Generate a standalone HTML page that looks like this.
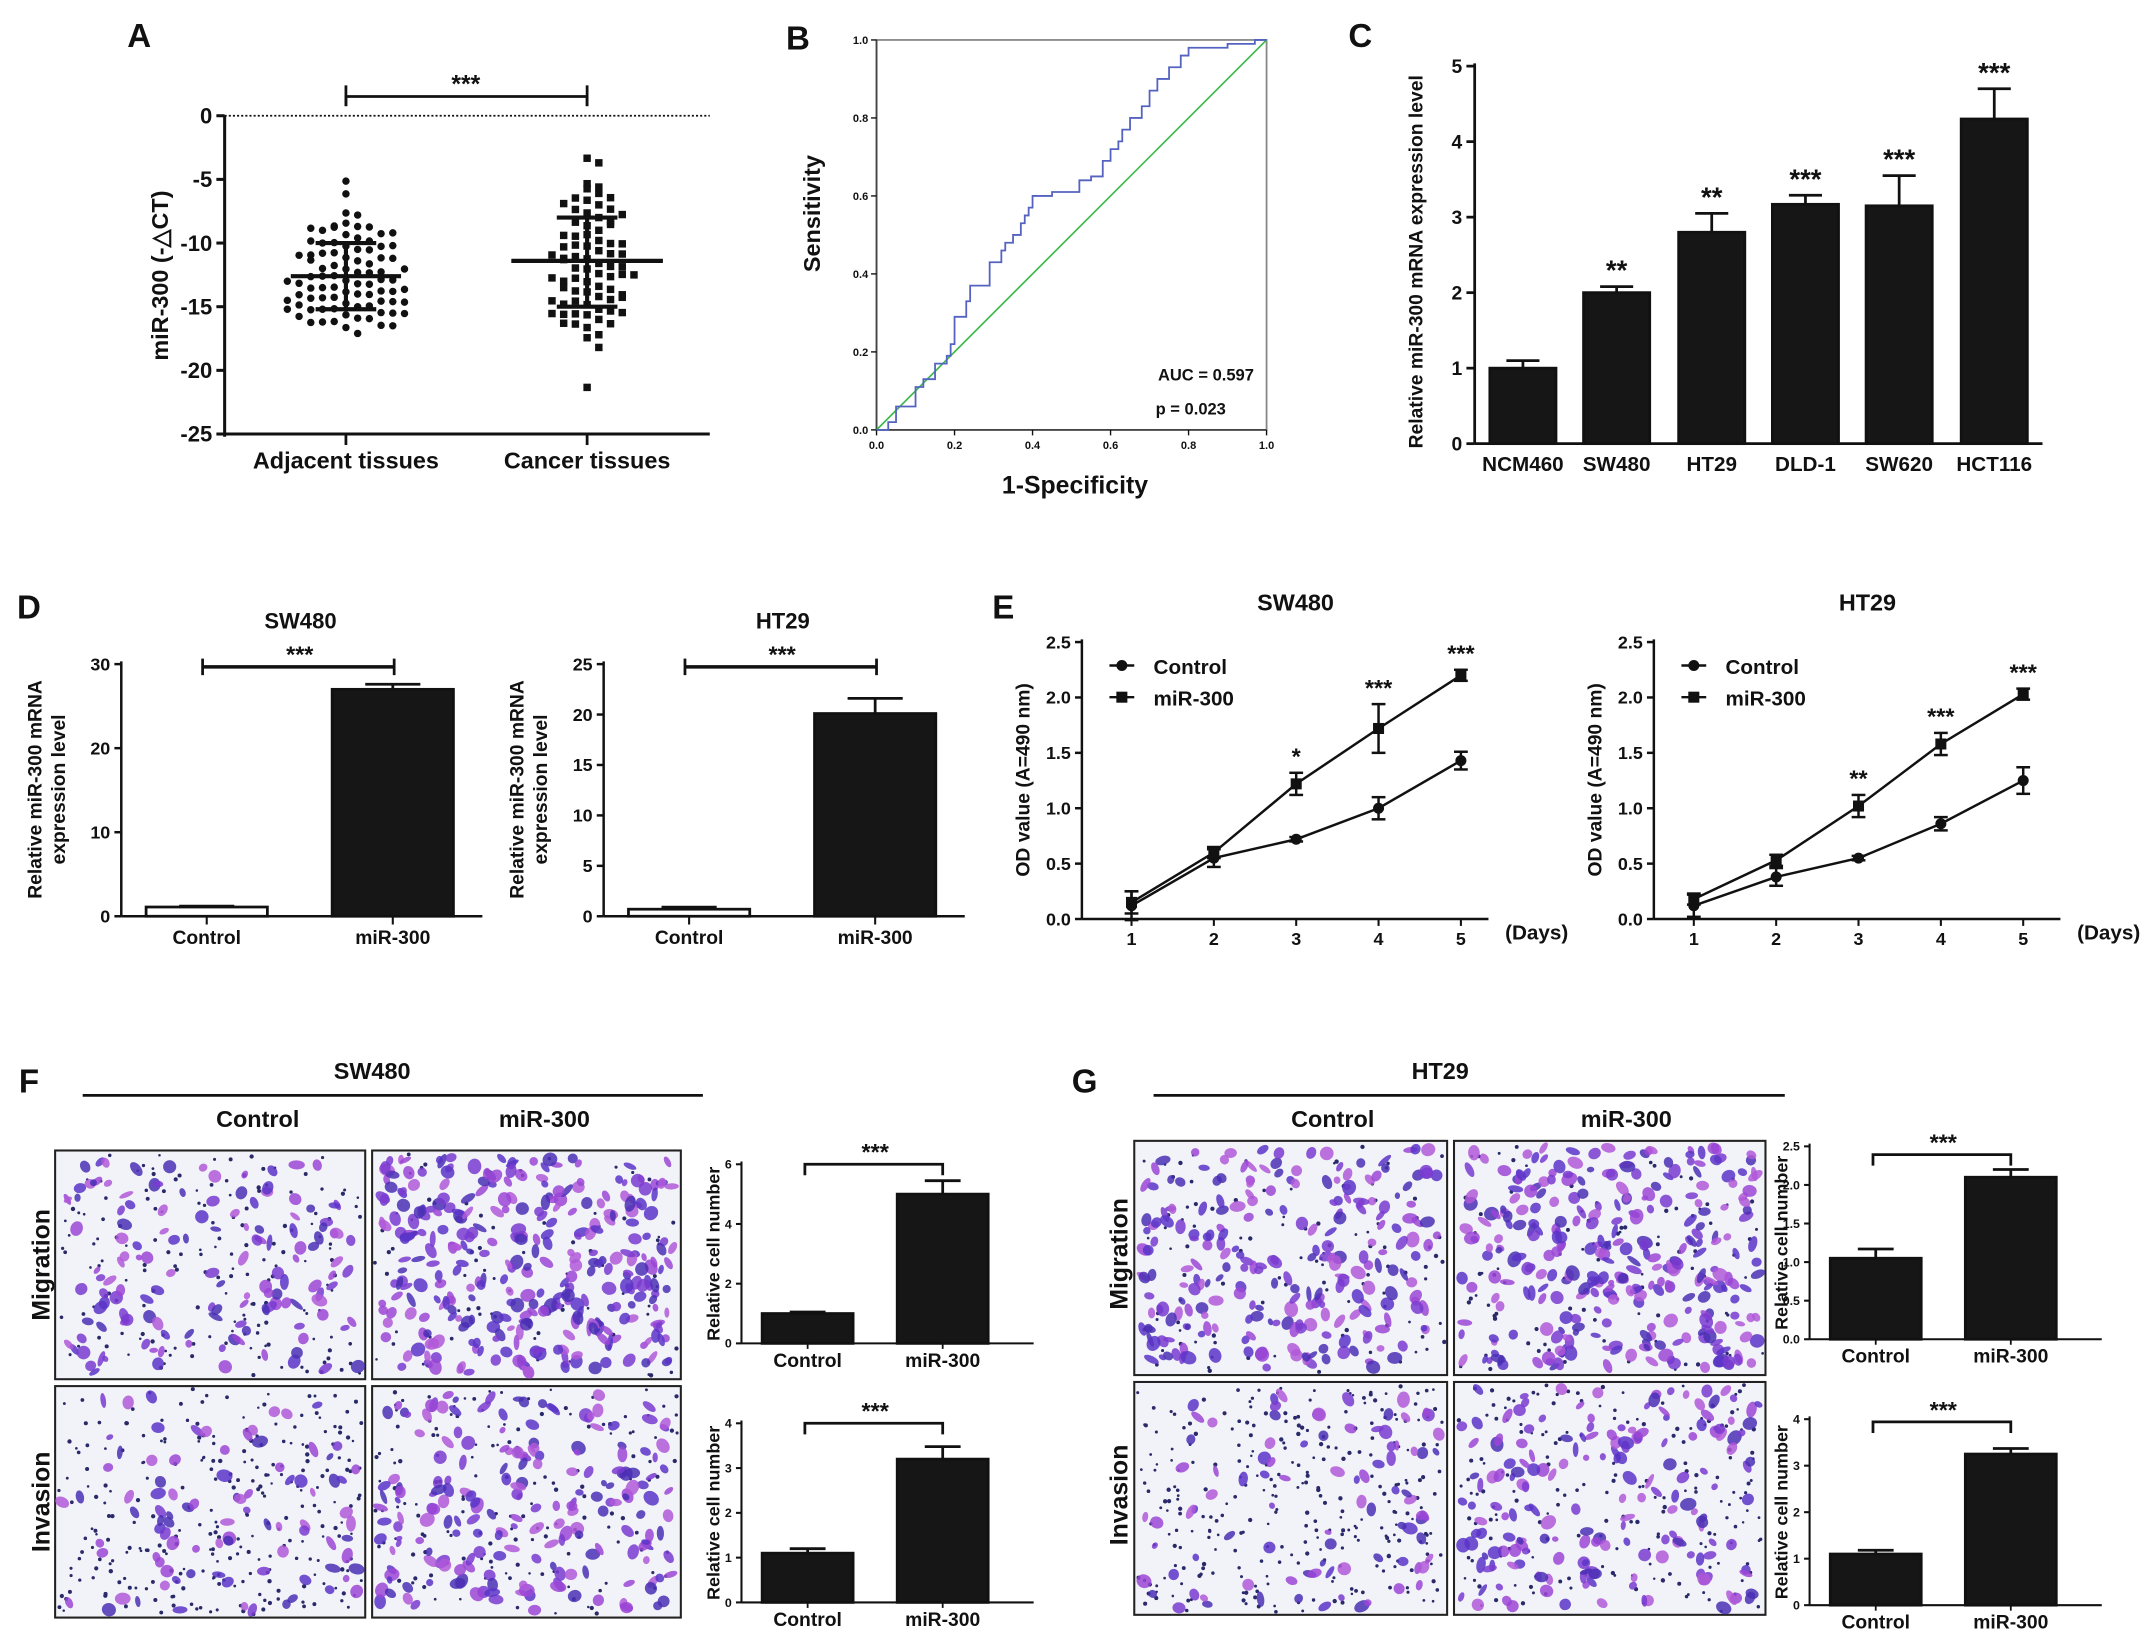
<!DOCTYPE html>
<html><head><meta charset="utf-8"><style>
html,body{margin:0;padding:0;background:#fff;}
svg{display:block;}
text{font-family:"Liberation Sans",Arial,sans-serif;font-weight:bold;fill:#111;}
</style></head><body>
<svg id="fig" xmlns="http://www.w3.org/2000/svg" width="2150" height="1641" viewBox="0 0 1560 1191" preserveAspectRatio="none"></svg>
<script>
// ---------- DATA ----------
const aCategories = ["Adjacent tissues", "Cancer tissues"];
const aAdjacent = [-5.3,-6.3,-7.8,-7.8,-8.5,-8.6,-8.7,-8.6,-8.9,-9.0,-9.1,-9.0,-9.2,-9.5,-9.6,-9.8,-10.0,-10.0,-10.1,-10.0,-10.2,-10.4,-10.5,-10.6,-10.7,-10.8,-11.0,-11.1,-11.2,-11.3,-11.4,-11.6,-11.8,-12.0,-12.1,-12.2,-12.3,-12.4,-12.5,-12.6,-12.7,-12.8,-12.9,-13.0,-13.1,-13.2,-13.3,-13.4,-13.5,-13.6,-13.7,-13.8,-13.9,-14.0,-14.0,-14.1,-14.2,-14.3,-14.4,-14.5,-14.6,-14.7,-14.8,-14.9,-15.0,-15.0,-15.1,-15.2,-15.3,-15.4,-15.5,-15.6,-15.7,-15.8,-15.9,-16.0,-16.1,-16.2,-16.3,-16.4,-16.5,-16.8,-17.1,-11.5,-12.2,-13.0,-13.8,-14.5,-15.2,-10.8];
const aCancer = [-3.5,-3.7,-5.5,-5.6,-5.9,-6.1,-6.3,-6.6,-6.8,-7.0,-7.2,-7.5,-7.8,-8.0,-8.2,-8.5,-8.8,-9.0,-9.3,-9.5,-9.8,-10.0,-10.2,-10.4,-10.6,-10.9,-11.0,-11.2,-11.4,-11.6,-11.8,-12.0,-12.2,-12.4,-12.6,-12.8,-13.0,-13.2,-13.4,-13.6,-13.8,-14.0,-14.2,-14.4,-14.6,-14.8,-15.0,-15.2,-15.4,-15.5,-15.6,-15.8,-16.0,-16.2,-16.5,-16.8,-17.2,-17.6,-18.2,-21.5,-6.9,-7.6,-8.7,-9.4,-10.3,-10.7,-11.3,-11.7,-12.3,-12.9,-13.5,-14.1,-14.7,-15.3,-15.7,-16.3,-9.9,-11.1,-12.5,-13.9];
const aMean = [-12.6, -11.4];
const aSdHigh = [-10.0, -8.0];
const aSdLow = [-15.2, -15.0];
const aTicks = [0,-5,-10,-15,-20,-25];

const rocX = [0,0.03,0.03,0.05,0.05,0.1,0.1,0.12,0.12,0.15,0.15,0.18,0.18,0.19,0.2,0.2,0.23,0.24,0.24,0.27,0.29,0.29,0.32,0.33,0.35,0.37,0.38,0.39,0.40,0.45,0.45,0.5,0.52,0.55,0.58,0.6,0.62,0.63,0.65,0.68,0.7,0.72,0.75,0.78,0.8,0.85,0.9,0.95,0.97,1];
const rocY = [0,0,0.02,0.05,0.06,0.07,0.11,0.12,0.13,0.14,0.17,0.18,0.19,0.22,0.28,0.29,0.33,0.35,0.37,0.37,0.41,0.43,0.46,0.48,0.5,0.53,0.55,0.57,0.6,0.6,0.61,0.61,0.64,0.65,0.69,0.72,0.74,0.77,0.8,0.83,0.87,0.9,0.93,0.96,0.98,0.98,0.99,0.99,1,1];
const rocTicks = [0,0.2,0.4,0.6,0.8,1.0];

const cCategories = ["NCM460","SW480","HT29","DLD-1","SW620","HCT116"];
const cValues = [1.0,2.0,2.8,3.17,3.15,4.3];
const cErrors = [0.1,0.08,0.25,0.12,0.4,0.4];
const cStars = ["","**","**","***","***","***"];
const cTicks = [0,1,2,3,4,5];

const dCategories = ["Control","miR-300"];
const dSW480Values = [1.1,27.0];
const dSW480Errors = [0.1,0.6];
const dSW480Ticks = [0,10,20,30];
const dHT29Values = [0.7,20.1];
const dHT29Errors = [0.2,1.5];
const dHT29Ticks = [0,5,10,15,20,25];

const eDays = [1,2,3,4,5];
const eTicks = [0,0.5,1.0,1.5,2.0,2.5];
const eSW480Control = [0.12,0.55,0.72,1.0,1.43];
const eSW480ControlErr = [0.13,0.08,0.02,0.1,0.08];
const eSW480Mir = [0.15,0.6,1.22,1.72,2.2];
const eSW480MirErr = [0.1,0.05,0.1,0.22,0.05];
const eSW480Stars = ["","","*","***","***"];
const eHT29Control = [0.12,0.38,0.55,0.86,1.25];
const eHT29ControlErr = [0.1,0.08,0.02,0.06,0.12];
const eHT29Mir = [0.18,0.53,1.02,1.58,2.03];
const eHT29MirErr = [0.05,0.05,0.1,0.1,0.05];
const eHT29Stars = ["","","**","***","***"];

const fMigValues = [1.0,5.0];
const fMigErrors = [0.05,0.45];
const fMigTicks = [0,2,4,6];
const fInvValues = [1.1,3.2];
const fInvErrors = [0.1,0.28];
const fInvTicks = [0,1,2,3,4];
const gMigValues = [1.05,2.1];
const gMigErrors = [0.12,0.1];
const gMigTicks = [0,0.5,1.0,1.5,2.0,2.5];
const gInvValues = [1.1,3.25];
const gInvErrors = [0.08,0.12];
const gInvTicks = [0,1,2,3,4];

// ---------- HELPERS ----------
const NS = "http://www.w3.org/2000/svg";
const root = document.getElementById("fig");
function el(tag, attrs, name, parent) {
  const e = document.createElementNS(NS, tag);
  for (const k in attrs) e.setAttribute(k, attrs[k]);
  
  
  (parent || root).appendChild(e);
  return e;
}
function grp(name) { return el("g", {}, name); }
function txt(x, y, s, size, name, parent, opts) {
  opts = opts || {};
  const a = {x: x, y: y, "font-size": size, "text-anchor": opts.anchor || "middle"};
  if (opts.rot) a.transform = "rotate(" + opts.rot + " " + x + " " + y + ")";
  if (opts.weight) a["font-weight"] = opts.weight;
  const t = el("text", a, name, parent);
  t.textContent = s;
  return t;
}
function line(x1, y1, x2, y2, w, name, parent, extra) {
  const a = {x1: x1, y1: y1, x2: x2, y2: y2, stroke: "#111", "stroke-width": w};
  if (extra) for (const k in extra) a[k] = extra[k];
  return el("line", a, name, parent);
}
function lin(d0, d1, r0, r1) { return v => r0 + (v - d0) * (r1 - r0) / (d1 - d0); }
function fmt(v, dec) { return dec ? v.toFixed(dec) : String(v); }

function yAxis(g, x, y0, y1, ticks, sc, fs, dec, tl, w) {
  line(x, y0, x, y1, w, "y-axis-line", g);
  ticks.forEach(t => {
    line(x - tl, sc(t), x, sc(t), w, "y-tick", g);
    txt(x - tl - 3, sc(t) + fs * 0.35, fmt(t, dec), fs, "y-tick-label", g, {anchor: "end"});
  });
}
function bracket(g, x1, x2, y, d) {
  el("path", {d: "M" + x1 + " " + (y + d) + " V" + y + " H" + x2 + " V" + (y + d), fill: "none", stroke: "#111", "stroke-width": 2}, "significance-bracket", g);
}
function barSet(g, centers, vals, errs, sc, bw, fills, capW) {
  vals.forEach((v, i) => {
    const yv = sc(v), y0 = sc(0);
    const ye = sc(v + errs[i]);
    line(centers[i], yv, centers[i], ye, 2, "error-bar", g);
    line(centers[i] - capW, ye, centers[i] + capW, ye, 2, "error-cap", g);
    el("rect", {x: centers[i] - bw / 2, y: yv, width: bw, height: y0 - yv, fill: fills[i], stroke: "#111", "stroke-width": 2}, "bar-" + i, g);
  });
}

// ---------- PANEL A ----------
(function () {
  const g = grp("panel-a");
  txt(101, 34, "A", 24, "panel-label-a", g);
  const sy = lin(0, -25, 84, 315);
  const xs = [251, 426];
  line(163, 84, 515, 84, 1.2, "zero-dotted-line", g, {"stroke-dasharray": "1.5 1.5"});
  yAxis(g, 163, 84, 317, aTicks, sy, 16, 0, 6, 2.2);
  line(163, 315, 515, 315, 2.2, "x-axis-line", g);
  xs.forEach((x, i) => {
    line(x, 315, x, 323, 2, "x-tick", g);
    txt(x, 340, aCategories[i], 17, "x-category-label", g);
  });
  txt(122, 200, "miR-300 (-△CT)", 17, "y-axis-title", g, {rot: -90});
  bracket(g, 251, 426, 70, 7);
  el("path", {d: "M251 62 V77 M426 62 V77", stroke: "#111", "stroke-width": 2}, "bracket-ends", g);
  txt(338, 67, "***", 18, "significance-stars", g);
  [aAdjacent, aCancer].forEach((arr, gi) => {
    const bins = {};
    arr.forEach(v => {
      const b = Math.round(v / 0.9);
      const k = bins[b] = (bins[b] || 0) + 1;
      const kk = k - 1;
      const off = (kk % 2 ? 1 : -1) * Math.ceil(kk / 2) * 8.5;
      const cx = xs[gi] + off, cy = sy(v) + ((kk % 3) - 1) * 1.5;
      if (gi === 0) el("circle", {cx: cx, cy: cy, r: 2.7, fill: "#111"}, "adjacent-point", g);
      else el("rect", {x: cx - 2.7, y: cy - 2.7, width: 5.4, height: 5.4, fill: "#111"}, "cancer-point", g);
    });
    line(xs[gi] - 40 - gi * 15, sy(aMean[gi]), xs[gi] + 40 + gi * 15, sy(aMean[gi]), 3, "mean-line", g);
    line(xs[gi], sy(aSdHigh[gi]), xs[gi], sy(aSdLow[gi]), 3, "sd-line", g);
    line(xs[gi] - 22, sy(aSdHigh[gi]), xs[gi] + 22, sy(aSdHigh[gi]), 3, "sd-cap", g);
    line(xs[gi] - 22, sy(aSdLow[gi]), xs[gi] + 22, sy(aSdLow[gi]), 3, "sd-cap", g);
  });
})();

// ---------- PANEL B ----------
(function () {
  const g = grp("panel-b");
  txt(579, 36, "B", 24, "panel-label-b", g);
  const sx = lin(0, 1, 636, 919), sy = lin(0, 1, 312, 29);
  el("rect", {x: 636, y: 29, width: 283, height: 283, fill: "none", stroke: "#888", "stroke-width": 1.3}, "plot-frame", g);
  line(636, 29, 636, 312, 1.3, "y-axis-line", g, {stroke: "#444"});
  line(636, 312, 919, 312, 1.3, "x-axis-line", g, {stroke: "#444"});
  rocTicks.forEach(t => {
    line(632, sy(t), 636, sy(t), 1, "y-tick", g);
    txt(630, sy(t) + 3, t.toFixed(1), 8, "y-tick-label", g, {anchor: "end", weight: "normal"});
    line(sx(t), 312, sx(t), 316, 1, "x-tick", g);
    txt(sx(t), 326, t.toFixed(1), 8, "x-tick-label", g, {weight: "normal"});
  });
  line(sx(0), sy(0), sx(1), sy(1), 1.2, "reference-diagonal", g, {stroke: "#3cb84a"});
  let d = "M" + sx(rocX[0]) + " " + sy(rocY[0]);
  for (let i = 1; i < rocX.length; i++) d += " H" + sx(rocX[i]) + " V" + sy(rocY[i]);
  el("path", {d: d, fill: "none", stroke: "#5563c0", "stroke-width": 1.3}, "roc-curve", g);
  txt(595, 155, "Sensitivity", 17, "y-axis-title", g, {rot: -90});
  txt(780, 358, "1-Specificity", 18, "x-axis-title", g);
  txt(875, 276, "AUC = 0.597", 12, "auc-label", g);
  txt(864, 301, "p = 0.023", 12, "p-value-label", g);
})();

// ---------- PANEL C ----------
(function () {
  const g = grp("panel-c");
  txt(987, 34, "C", 24, "panel-label-c", g);
  const sy = lin(0, 5, 322, 48);
  const xs = [1105, 1173, 1242, 1310, 1378, 1447];
  yAxis(g, 1070, 322, 46, cTicks, sy, 14, 0, 6, 2);
  line(1070, 322, 1482, 322, 2, "x-axis-line", g);
  barSet(g, xs, cValues, cErrors, sy, 48, cValues.map(() => "#161616"), 12);
  xs.forEach((x, i) => {
    txt(x, 342, cCategories[i], 15, "x-category-label", g);
    if (cStars[i]) txt(x, sy(cValues[i] + cErrors[i]) - 5, cStars[i], 20, "significance-stars", g);
  });
  txt(1032, 190, "Relative miR-300 mRNA expression level", 14, "y-axis-title", g, {rot: -90, weight: "normal"});
})();

// ---------- PANEL D ----------
function dChart(name, axX, vals, errs, ticks, max, title) {
  const g = grp(name);
  const sy = lin(0, max, 665, 482);
  const xs = [axX + 62, axX + 197];
  yAxis(g, axX, 665, 480, ticks, sy, 13, 0, 5, 1.8);
  line(axX, 665, axX + 262, 665, 1.8, "x-axis-line", g);
  barSet(g, xs, vals, errs, sy, 88, ["#fff", "#161616"], 20);
  xs.forEach((x, i) => {
    line(x, 665, x, 671, 1.5, "x-tick", g);
    txt(x, 685, dCategories[i], 14, "x-category-label", g);
  });
  line(xs[0] - 3, 484, xs[1] + 1, 484, 2.5, "significance-bracket", g);
  line(xs[0] - 3, 478, xs[0] - 3, 490, 2, "bracket-end", g);
  line(xs[1] + 1, 478, xs[1] + 1, 490, 2, "bracket-end", g);
  txt((xs[0] + xs[1]) / 2, 481, "***", 17, "significance-stars", g);
  txt(axX + 130, 456, title, 16, "chart-title", g);
  txt(axX - 58, 573, "Relative miR-300 mRNA", 14, "y-axis-title", g, {rot: -90, weight: "normal"});
  txt(axX - 41, 573, "expression level", 14, "y-axis-title", g, {rot: -90, weight: "normal"});
}
txt(21, 449, "D", 24, "panel-label-d");
dChart("panel-d-sw480", 88, dSW480Values, dSW480Errors, dSW480Ticks, 30, "SW480");
dChart("panel-d-ht29", 438, dHT29Values, dHT29Errors, dHT29Ticks, 25, "HT29");

// ---------- PANEL E ----------
function eChart(name, axX, x1, ctl, ctlE, mir, mirE, stars, title) {
  const g = grp(name);
  const sy = lin(0, 2.5, 667, 466);
  const sx = lin(1, 5, x1, x1 + 239);
  yAxis(g, axX, 667, 464, eTicks, sy, 13, 1, 5, 1.8);
  line(axX, 667, axX + 295, 667, 1.8, "x-axis-line", g);
  eDays.forEach(dd => {
    line(sx(dd), 667, sx(dd), 672, 1.5, "x-tick", g);
    txt(sx(dd), 686, String(dd), 13, "x-tick-label", g);
  });
  txt(axX + 330, 682, "(Days)", 15, "x-axis-unit", g);
  [[ctl, ctlE, "control"], [mir, mirE, "mir-300"]].forEach(([v, e, nm]) => {
    el("polyline", {points: eDays.map((dd, i) => sx(dd) + "," + sy(v[i])).join(" "), fill: "none", stroke: "#111", "stroke-width": 1.8}, nm + "-line", g);
    eDays.forEach((dd, i) => {
      const x = sx(dd);
      line(x, sy(v[i] - e[i]), x, sy(v[i] + e[i]), 1.8, nm + "-error", g);
      line(x - 5, sy(v[i] - e[i]), x + 5, sy(v[i] - e[i]), 1.8, nm + "-error-cap", g);
      line(x - 5, sy(v[i] + e[i]), x + 5, sy(v[i] + e[i]), 1.8, nm + "-error-cap", g);
      if (nm === "control") el("circle", {cx: x, cy: sy(v[i]), r: 4, fill: "#111"}, "control-point", g);
      else el("rect", {x: x - 4, y: sy(v[i]) - 4, width: 8, height: 8, fill: "#111"}, "mir-300-point", g);
    });
  });
  eDays.forEach((dd, i) => {
    if (stars[i]) txt(sx(dd), sy(mir[i] + mirE[i]) - 6, stars[i], 17, "significance-stars", g);
  });
  line(axX + 20, 483, axX + 38, 483, 1.8, "legend-control-line", g);
  el("circle", {cx: axX + 29, cy: 483, r: 4, fill: "#111"}, "legend-control-marker", g);
  txt(axX + 52, 489, "Control", 15, "legend-control-label", g, {anchor: "start", weight: "normal"});
  line(axX + 20, 506, axX + 38, 506, 1.8, "legend-mir-line", g);
  el("rect", {x: axX + 25, y: 502, width: 8, height: 8, fill: "#111"}, "legend-mir-marker", g);
  txt(axX + 52, 512, "miR-300", 15, "legend-mir-label", g, {anchor: "start", weight: "normal"});
  txt(axX + 155, 443, title, 17, "chart-title", g);
  txt(axX - 38, 566, "OD value (A=490 nm)", 14, "y-axis-title", g, {rot: -90});
}
txt(728, 449, "E", 24, "panel-label-e");
eChart("panel-e-sw480", 785, 821, eSW480Control, eSW480ControlErr, eSW480Mir, eSW480MirErr, eSW480Stars, "SW480");
eChart("panel-e-ht29", 1200, 1229, eHT29Control, eHT29ControlErr, eHT29Mir, eHT29MirErr, eHT29Stars, "HT29");

// ---------- MICROGRAPHS ----------
function micro(name, x, y, w, h, blobs, specks, seed) {
  const g = grp(name);
  let s = seed;
  const rnd = () => { s = (s * 1103515245 + 12345) % 2147483648; return s / 2147483648; };
  el("rect", {x: x, y: y, width: w, height: h, fill: "#f2f3f8", stroke: "#222", "stroke-width": 1.5}, "image-background", g);
  for (let i = 0; i < specks; i++) {
    el("circle", {cx: x + 2 + rnd() * (w - 4), cy: y + 2 + rnd() * (h - 4), r: 0.9 + rnd() * 0.7, fill: "#2a2a6a"}, "speck", g);
  }
  const cols = ["#7a3bd0", "#5a34c8", "#9b45d6", "#4a2fb5", "#b058d8"];
  for (let i = 0; i < blobs; i++) {
    const cx = x + 5 + rnd() * (w - 10), cy = y + 5 + rnd() * (h - 10);
    el("ellipse", {cx: cx, cy: cy, rx: 2.2 + rnd() * 3.8, ry: 1.8 + rnd() * 3.2, transform: "rotate(" + Math.floor(rnd() * 180) + " " + cx + " " + cy + ")", fill: cols[Math.floor(rnd() * 5)], opacity: 0.85}, "cell", g);
  }
}
function rowLabels(x, yMig, yInv) {
  txt(x, yMig, "Migration", 18, "row-label-migration", null, {rot: -90});
  txt(x, yInv, "Invasion", 18, "row-label-invasion", null, {rot: -90});
}
function smallBar(name, axX, y0, ytop, vals, errs, ticks, max, dec, bracketY) {
  const g = grp(name);
  const sy = lin(0, max, y0, ytop);
  const xs = [axX + 48, axX + 146];
  yAxis(g, axX, y0, ytop - 2, ticks, sy, 9, dec, 4, 1.5);
  line(axX, y0, axX + 212, y0, 1.5, "x-axis-line", g);
  barSet(g, xs, vals, errs, sy, 66, ["#161616", "#161616"], 13);
  xs.forEach((x, i) => {
    line(x, y0, x, y0 + 4, 1.3, "x-tick", g);
    txt(x, y0 + 17, dCategories[i], 14, "x-category-label", g);
  });
  bracket(g, xs[0] - 2, xs[1], bracketY, 8);
  txt((xs[0] + xs[1]) / 2, bracketY - 3, "***", 17, "significance-stars", g);
  txt(axX - 16, (y0 + ytop) / 2, "Relative cell number", 13, "y-axis-title", g, {rot: -90});
}

// ---------- PANEL F ----------
txt(21, 793, "F", 24, "panel-label-f");
txt(270, 783, "SW480", 17, "panel-f-title");
line(60, 795, 510, 795, 2, "panel-f-title-rule");
txt(187, 818, "Control", 17, "column-label-control");
txt(395, 818, "miR-300", 17, "column-label-mir-300");
rowLabels(36, 918, 1090);
micro("f-migration-control", 40, 835, 225, 166, 140, 160, 11);
micro("f-migration-mir-300", 270, 835, 224, 166, 330, 80, 23);
micro("f-invasion-control", 40, 1006, 225, 168, 90, 260, 37);
micro("f-invasion-mir-300", 270, 1006, 224, 168, 200, 150, 51);
smallBar("f-migration-bar-chart", 538, 975, 845, fMigValues, fMigErrors, fMigTicks, 6, 0, 845);
smallBar("f-invasion-bar-chart", 538, 1163, 1033, fInvValues, fInvErrors, fInvTicks, 4, 0, 1033);

// ---------- PANEL G ----------
txt(787, 793, "G", 24, "panel-label-g");
txt(1045, 783, "HT29", 17, "panel-g-title");
line(837, 795, 1295, 795, 2, "panel-g-title-rule");
txt(967, 818, "Control", 17, "column-label-control");
txt(1180, 818, "miR-300", 17, "column-label-mir-300");
rowLabels(818, 910, 1085);
micro("g-migration-control", 823, 828, 227, 170, 240, 100, 71);
micro("g-migration-mir-300", 1055, 828, 226, 170, 300, 90, 83);
micro("g-invasion-control", 823, 1003, 227, 169, 90, 280, 97);
micro("g-invasion-mir-300", 1055, 1003, 226, 169, 180, 180, 113);
smallBar("g-migration-bar-chart", 1313, 972, 832, gMigValues, gMigErrors, gMigTicks, 2.5, 1, 838);
smallBar("g-invasion-bar-chart", 1313, 1165, 1030, gInvValues, gInvErrors, gInvTicks, 4, 0, 1032);
</script>
</body></html>
